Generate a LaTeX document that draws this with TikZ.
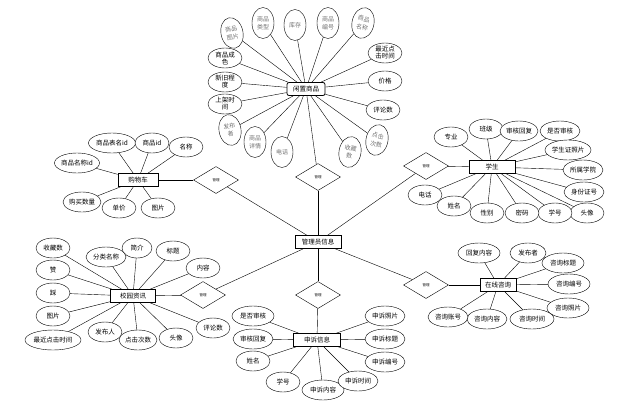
\documentclass[tikz,border=0pt]{standalone}
\usepackage{fontspec}
\setmainfont{Noto Sans CJK SC}
\usetikzlibrary{shapes.geometric}
\newcommand{\sz}{\fontsize{6.5}{7}\selectfont}
\newcommand{\szv}{\fontsize{6}{8.5}\selectfont}

\begin{document}
\begin{tikzpicture}[x=1pt,y=-1pt,
   attr/.style={draw,ellipse,inner sep=0pt,minimum width=34pt,minimum height=20pt,font=\sz,fill=white},
   vattr/.style={attr,minimum width=22pt,minimum height=31pt,font=\szv,text=black!55,align=center},
   entity/.style={draw,thick,inner sep=2pt,minimum height=13pt,font=\sz,fill=white},
   rel/.style={draw,diamond,aspect=1.7,inner sep=0pt,minimum width=45pt,minimum height=27pt,font=\fontsize{3.5}{4}\selectfont,fill=white}]
   \useasboundingbox (0,0) rectangle (643,413);

   % entities and relations
   \node[entity,minimum width=46pt] (adm) at (318,242) {管理员信息};
   \node[entity,rounded corners=2pt,minimum width=38pt] (goods) at (306,89) {闲置商品};
   \node[entity,minimum width=40pt] (cart) at (138,180) {购物车};
   \node[entity,minimum width=45pt] (news) at (133,296) {校园资讯};
   \node[entity,minimum width=46pt] (stu) at (492,167) {学生};
   \node[entity,minimum width=36pt] (ask) at (498,285) {在线咨询};
   \node[entity,minimum width=47pt] (app) at (317,340) {申诉信息};

   \node[rel] (r1) at (318,177) {管理};
   \node[rel] (r2) at (216,180) {管理};
   \node[rel] (r3) at (426,166) {管理};
   \node[rel] (r4) at (203,295) {管理};
   \node[rel] (r5) at (318,295) {管理};
   \node[rel] (r6) at (426,285) {管理};

   % goods
   \node[vattr,rotate=12] (g1) at (232,33) {商品\\图片};
   \node[vattr] (g2) at (263,23) {商品\\类型};
   \node[vattr] (g3) at (295,25) {库存};
   \node[vattr] (g4) at (328,23) {商品\\编号};
   \node[vattr,rotate=-12] (g5) at (363,23) {商品\\名称};
   \node[attr,align=center] (g6) at (225,58) {商品成\\色};
   \node[attr,align=center] (g7) at (225,82) {新旧程\\度};
   \node[attr,align=center] (g8) at (225,104) {上架时\\间};
   \node[attr,align=center] (g9) at (385,53) {最近点\\击时间};
   \node[attr] (g10) at (385,81) {价格};
   \node[attr] (g11) at (383,110) {评论数};
   \node[vattr,rotate=10] (g12) at (230,130) {发布\\者};
   \node[vattr] (g13) at (255,142) {商品\\详情};
   \node[vattr] (g14) at (282,152) {电话};
   \node[vattr,rotate=-10] (g15) at (350,152) {收藏\\数};
   \node[vattr,rotate=-12] (g16) at (377,140) {点击\\次数};

   % cart
   \node[attr,minimum width=47pt] (c1) at (112,143) {商品表名id};
   \node[attr] (c2) at (152,143) {商品id};
   \node[attr] (c3) at (186,147) {名称};
   \node[attr,minimum width=44pt] (c4) at (77,163) {商品名称id};
   \node[attr,minimum width=38pt] (c5) at (82,202) {购买数量};
   \node[attr] (c6) at (119,208) {单价};
   \node[attr] (c7) at (158,208) {图片};

   % news
   \node[attr] (n1) at (53,248) {收藏数};
   \node[attr] (n2) at (53,270) {赞};
   \node[attr] (n3) at (53,293) {踩};
   \node[attr] (n4) at (53,316) {图片};
   \node[attr,minimum width=56pt] (n5) at (53,340) {最近点击时间};
   \node[attr,minimum width=40pt] (n6) at (106,257) {分类名称};
   \node[attr,minimum width=30pt] (n7) at (137,248) {简介};
   \node[attr] (n8) at (173,251) {标题};
   \node[attr] (n9) at (203,268) {内容};
   \node[attr] (n10) at (105,332) {发布人};
   \node[attr,minimum width=38pt] (n11) at (138,340) {点击次数};
   \node[attr] (n12) at (176,338) {头像};
   \node[attr] (n13) at (213,328) {评论数};

   % student
   \node[attr] (s1) at (451,137) {专业};
   \node[attr] (s2) at (486,129) {班级};
   \node[attr,minimum width=38pt] (s3) at (519,131) {审核回复};
   \node[attr,minimum width=40pt] (s4) at (560,131) {是否审核};
   \node[attr,minimum width=46pt] (s5) at (568,150) {学生证照片};
   \node[attr,minimum width=40pt] (s6) at (583,170) {所属学院};
   \node[attr,minimum width=40pt] (s7) at (584,192) {身份证号};
   \node[attr] (s8) at (587,213) {头像};
   \node[attr] (s9) at (555,213) {学号};
   \node[attr] (s10) at (522,213) {密码};
   \node[attr] (s11) at (487,213) {性别};
   \node[attr] (s12) at (454,206) {姓名};
   \node[attr] (s13) at (425,195) {电话};

   % consult
   \node[attr,minimum width=42pt] (q1) at (479,253) {回复内容};
   \node[attr,minimum width=36pt] (q2) at (528,253) {发布者};
   \node[attr,minimum width=42pt] (q3) at (563,263) {咨询标题};
   \node[attr,minimum width=42pt] (q4) at (569,284) {咨询编号};
   \node[attr,minimum width=42pt] (q5) at (568,308) {咨询照片};
   \node[attr,minimum width=44pt] (q6) at (532,319) {咨询时间};
   \node[attr,minimum width=40pt] (q7) at (487,319) {咨询内容};
   \node[attr,minimum width=40pt] (q8) at (448,317) {咨询账号};

   % appeal
   \node[attr,minimum width=42pt] (a1) at (253,316) {是否审核};
   \node[attr,minimum width=40pt] (a2) at (253,339) {审核回复};
   \node[attr] (a3) at (253,361) {姓名};
   \node[attr] (a4) at (283,382) {学号};
   \node[attr,minimum width=42pt] (a5) at (323,390) {申诉内容};
   \node[attr,minimum width=40pt] (a6) at (358,381) {申诉时间};
   \node[attr,minimum width=40pt] (a7) at (385,362) {申诉编号};
   \node[attr,minimum width=40pt] (a8) at (385,339) {申诉标题};
   \node[attr,minimum width=40pt] (a9) at (385,316) {申诉照片};

   % connectors
   \foreach \r/\e in {r1/goods,r2/cart,r3/stu,r4/news,r5/app,r6/ask}{
     \draw (adm) -- (\r);
     \draw (\r) -- (\e);
   }
   \foreach \i in {1,...,16} \draw (g\i) -- (goods);
   \foreach \i in {1,...,7} \draw (c\i) -- (cart);
   \foreach \i in {1,...,13} \draw (n\i) -- (news);
   \foreach \i in {1,...,13} \draw (s\i) -- (stu);
   \foreach \i in {1,...,8} \draw (q\i) -- (ask);
   \foreach \i in {1,...,9} \draw (a\i) -- (app);
\end{tikzpicture}
\end{document}
